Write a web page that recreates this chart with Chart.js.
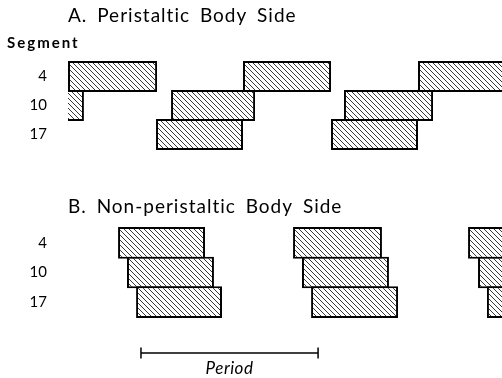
<!DOCTYPE html>
<html>
<head>
<meta charset="utf-8">
<script src="https://cdn.jsdelivr.net/npm/chart.js@4.4.1/dist/chart.umd.min.js"></script>
<style>
  html, body { margin: 0; padding: 0; background: #fff; }
  #wrap { position: relative; width: 502px; height: 378px; overflow: hidden; }
  canvas { position: absolute; left: 0; }
  #chartA { top: 0; }
  #chartB { top: 160px; }
</style>
</head>
<body>
<div id="wrap">
  <canvas id="chartA" width="502" height="160"></canvas>
  <canvas id="chartB" width="502" height="218"></canvas>
</div>
<script>
// segmentos (eje y)
const segments = ['4', '10', '17'];

// tiempos en unidades de periodo, 0 = inicio de la primera rafaga del segmento 4
// A. lado peristaltico
const periSeg4  = [[0, 0.509], [1.0, 1.503], [2.0, 2.505]];
const periSeg10 = [[-0.41, 0.091], [0.589, 1.069], [1.577, 2.086]];
const periSeg17 = [[0.503, 1.0], [1.503, 2.0]];

// B. lado no peristaltico
const nonPeriSeg4  = [[0.286, 0.783], [1.286, 1.794], [2.286, 2.79]];
const nonPeriSeg10 = [[0.337, 0.834], [1.337, 1.834], [2.343, 2.84]];
const nonPeriSeg17 = [[0.389, 0.88], [1.389, 1.886], [2.394, 2.89]];

// barra de escala "Period"
const periodBar = [0.417, 1.429];

const FONT = 'Lato, "Open Sans", sans-serif';
const X_MAX = 434 / 175; // el area llega al borde derecho

// patron rayado diagonal
function hatch() {
    const c = document.createElement('canvas');
    c.width = 5; c.height = 5;
    const g = c.getContext('2d');
    g.fillStyle = '#fff';
    g.fillRect(0, 0, 5, 5);
    g.strokeStyle = '#222';
    g.lineWidth = 0.9;
    g.beginPath();
    g.moveTo(-1, -1); g.lineTo(6, 6);
    g.moveTo(-1, 4); g.lineTo(1, 6);
    g.moveTo(4, -1); g.lineTo(6, 1);
    g.stroke();
    return g.createPattern(c, 'repeat');
}
const pattern = hatch();

function buildDatasets(rows) {
    const n = Math.max(...rows.map(r => r.length));
    const sets = [];
    for (let k = 0; k < n; k++) {
        sets.push({
            data: rows.map(r => r[k] || null),
            backgroundColor: pattern,
            borderColor: '#000',
            borderWidth: 2,
            borderSkipped: false,
            grouped: false,
            barPercentage: 1.07,
            categoryPercentage: 1,
            clip: {left: 0, right: 0, top: 3, bottom: 3}
        });
    }
    return sets;
}

// textos de panel (titulo, "Segment", barra de periodo)
const panelText = {
    id: 'panelText',
    afterDraw(chart, args, opts) {
        const ctx = chart.ctx;
        ctx.save();
        ctx.fillStyle = '#000';
        ctx.textAlign = 'left';
        ctx.textBaseline = 'alphabetic';
        if (opts.title) {
            ctx.font = '19px ' + FONT;
            ctx.letterSpacing = '1px';
            ctx.wordSpacing = '4px';
            ctx.fillText(opts.title, 68, opts.titleY);
        }
        if (opts.axisLabel) {
            ctx.font = 'bold 15px ' + FONT;
            ctx.letterSpacing = '2px';
            ctx.wordSpacing = '0px';
            ctx.fillText(opts.axisLabel, 7, opts.axisLabelY);
        }
        ctx.letterSpacing = '0px';
        ctx.wordSpacing = '0px';
        if (opts.period) {
            const sx = chart.scales.x;
            const x0 = sx.getPixelForValue(periodBar[0]);
            const x1 = sx.getPixelForValue(periodBar[1]);
            const y = chart.chartArea.bottom + 36;
            ctx.strokeStyle = '#000';
            ctx.lineWidth = 1.5;
            ctx.beginPath();
            ctx.moveTo(x0, y); ctx.lineTo(x1, y);
            ctx.moveTo(x0, y - 5.5); ctx.lineTo(x0, y + 5.5);
            ctx.moveTo(x1, y - 5.5); ctx.lineTo(x1, y + 5.5);
            ctx.stroke();
            ctx.font = 'italic 17px ' + FONT;
            ctx.letterSpacing = '0.5px';
            ctx.textAlign = 'center';
            ctx.fillText('Period', (x0 + x1) / 2, y + 21);
        }
        ctx.restore();
    }
};

function makeChart(id, rows, padding, textOpts) {
    const ctx = document.getElementById(id).getContext('2d');
    return new Chart(ctx, {
        type: 'bar',
        data: {labels: segments, datasets: buildDatasets(rows)},
        options: {
            indexAxis: 'y',
            responsive: false,
            animation: false,
            devicePixelRatio: 1,
            layout: {padding: padding},
            scales: {
                x: {type: 'linear', min: 0, max: X_MAX, display: false},
                y: {
                    grid: {display: false, drawTicks: false, tickLength: 0},
                    border: {display: false},
                    ticks: {color: '#000', padding: 21, font: {family: FONT, size: 15}},
                    afterFit: (scale) => {
                        scale.width = 68;
                        // que el padding de las etiquetas no reduzca el area
                        scale.paddingTop = 0;
                        scale.paddingBottom = 0;
                    }
                }
            },
            plugins: {
                legend: {display: false},
                tooltip: {enabled: false},
                panelText: textOpts
            }
        },
        plugins: [panelText]
    });
}

makeChart('chartA', [periSeg4, periSeg10, periSeg17],
    {top: 62, bottom: 11, left: 0, right: 0},
    {title: 'A. Peristaltic Body Side', titleY: 22, axisLabel: 'Segment', axisLabelY: 48});

makeChart('chartB', [nonPeriSeg4, nonPeriSeg10, nonPeriSeg17],
    {top: 68, bottom: 61, left: 0, right: 0},
    {title: 'B. Non-peristaltic Body Side', titleY: 53, period: true});
</script>
</body>
</html>
